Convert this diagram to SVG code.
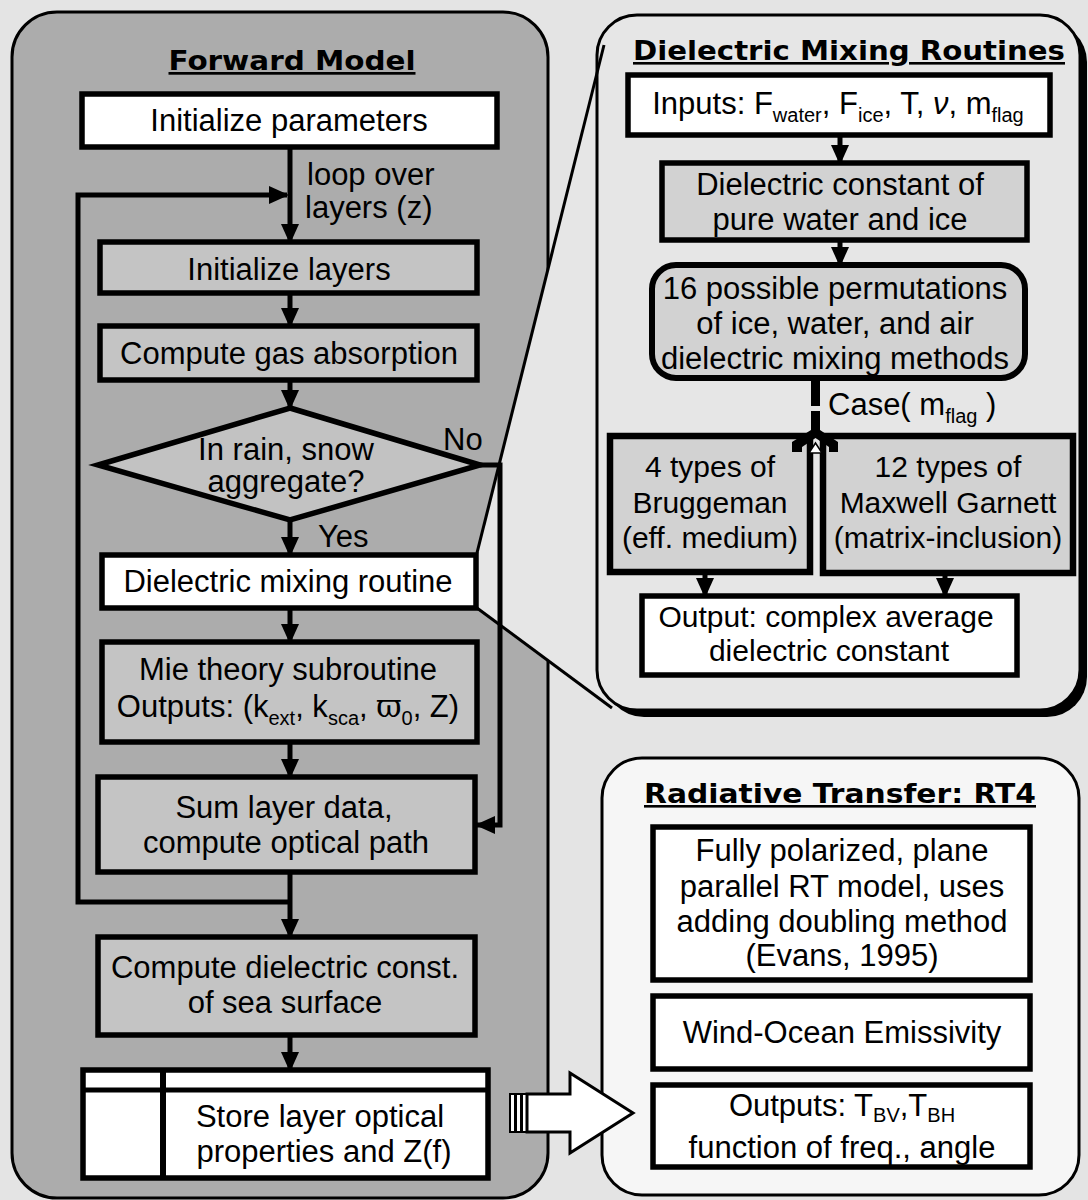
<svg xmlns="http://www.w3.org/2000/svg" width="1088" height="1200" viewBox="0 0 1088 1200">
<defs>
<marker id="ah" viewBox="0 0 20 18" markerWidth="20" markerHeight="18" refX="18" refY="9" markerUnits="userSpaceOnUse" orient="auto"><path d="M0,0 L20,9 L0,18 Z" fill="#000"/></marker>
<style>
.panel{stroke:#000;stroke-width:3}
.box{stroke:#000;stroke-width:5.5}
.w{fill:#fff}
.g{fill:#c4c4c4}
.g2{fill:#d2d2d2}
.t{font-family:"Liberation Sans",Arial,sans-serif;font-size:31px;text-anchor:middle;fill:#000}
.s{text-anchor:start}
.ttl{font-family:"DejaVu Sans","Liberation Sans",sans-serif;font-weight:bold;text-anchor:middle;text-decoration:underline;fill:#000}
.conn{stroke:#000;stroke-width:5;fill:none}
.sub{font-size:20px}
</style>
</defs>
<rect width="1088" height="1200" fill="#e4e4e4"/>

<g id="forward-panel">
<rect x="12" y="12" width="536" height="1186" rx="45" fill="#acacac" class="panel"/>
<text class="ttl" x="292" y="70" font-size="27" textLength="247" lengthAdjust="spacingAndGlyphs">Forward Model</text>
</g>

<g id="callout">
<polygon points="477,553 604,45 612,708 477,608" fill="#e6e6e6"/>
</g>

<g id="dielectric-panel">
<rect x="604" y="22" width="483" height="695" rx="40" fill="#000"/>
<rect x="597" y="15" width="483" height="695" rx="40" fill="#e6e6e6" class="panel"/>
<text class="ttl" x="849" y="60" font-size="26" textLength="432" lengthAdjust="spacingAndGlyphs">Dielectric Mixing Routines</text>
</g>

<g id="callout-lines" class="conn" style="stroke-width:3">
<line x1="477" y1="553" x2="604" y2="45"/>
<line x1="477" y1="608" x2="612" y2="708"/>
</g>

<g id="rt4-panel">
<rect x="602" y="758" width="477" height="437" rx="40" fill="#f6f6f6" class="panel"/>
<text class="ttl" x="840" y="803" font-size="26" textLength="392" lengthAdjust="spacingAndGlyphs">Radiative Transfer: RT4</text>
</g>

<g id="connectors">
<line class="conn" x1="290" y1="148" x2="290" y2="242" marker-end="url(#ah)"/>
<path class="conn" d="M290,902 L78,902 L78,195 L287,195" marker-end="url(#ah)"/>
<line class="conn" x1="290" y1="293" x2="290" y2="326" marker-end="url(#ah)"/>
<line class="conn" x1="290" y1="380" x2="290" y2="408" marker-end="url(#ah)"/>
<line class="conn" x1="290" y1="520" x2="290" y2="555" marker-end="url(#ah)"/>
<path class="conn" d="M480,465 L500,465 L500,825 L477,825" marker-end="url(#ah)"/>
<line class="conn" x1="290" y1="608" x2="290" y2="642" marker-end="url(#ah)"/>
<line class="conn" x1="290" y1="742" x2="290" y2="777" marker-end="url(#ah)"/>
<line class="conn" x1="290" y1="872" x2="290" y2="937" marker-end="url(#ah)"/>
<line class="conn" x1="290" y1="1035" x2="290" y2="1070" marker-end="url(#ah)"/>
<line class="conn" x1="840" y1="135" x2="840" y2="163" marker-end="url(#ah)"/>
<line class="conn" x1="840" y1="240" x2="840" y2="265" marker-end="url(#ah)"/>
<line class="conn" x1="705" y1="572" x2="705" y2="596" marker-end="url(#ah)"/>
<line class="conn" x1="945" y1="573" x2="945" y2="596" marker-end="url(#ah)"/>
<line x1="815.5" y1="378" x2="815.5" y2="406" stroke="#000" stroke-width="9"/>
<line x1="815.5" y1="411" x2="815.5" y2="432" stroke="#000" stroke-width="9"/>
<g id="big-arrow" stroke="#000" fill="#fff">
<rect x="510" y="1094" width="5" height="38" stroke-width="2"/>
<rect x="516" y="1094" width="5" height="38" stroke-width="2"/>
<rect x="522" y="1094" width="5" height="38" stroke-width="2"/>
<polygon points="527,1094 570,1094 570,1073 633,1113 570,1153 570,1132 527,1132" stroke-width="3"/>
</g>
</g>

<text class="t s" x="307" y="185">loop over</text>
<text class="t s" x="305" y="218">layers (z)</text>
<text class="t s" x="443" y="450">No</text>
<text class="t s" x="318" y="547">Yes</text>

<g id="init-params">
<rect class="box w" x="82" y="94" width="415" height="53"/>
<text class="t" x="289" y="131">Initialize parameters</text>
</g>
<g id="init-layers">
<rect class="box g" x="100" y="242" width="377" height="51"/>
<text class="t" x="289" y="280">Initialize layers</text>
</g>
<g id="gas-absorption">
<rect class="box g" x="100" y="326" width="377" height="54"/>
<text class="t" x="289" y="364">Compute gas absorption</text>
</g>
<g id="decision">
<polygon class="box" points="290,408 480,465 290,520 98,465" fill="#c2c2c2"/>
<text class="t" x="286" y="460">In rain, snow</text>
<text class="t" x="286" y="492">aggregate?</text>
</g>
<g id="dielectric-routine">
<rect class="box w" x="102" y="555" width="374" height="53"/>
<text class="t" x="288" y="592">Dielectric mixing routine</text>
</g>
<g id="mie">
<rect class="box g" x="102" y="642" width="375" height="100"/>
<text class="t" x="288" y="680">Mie theory subroutine</text>
<text class="t" x="288" y="717">Outputs: (k<tspan class="sub" dy="8">ext</tspan><tspan dy="-8">, k</tspan><tspan class="sub" dy="8">sca</tspan><tspan dy="-8">, </tspan><tspan font-family="DejaVu Serif,serif">ϖ</tspan><tspan class="sub" dy="8">0</tspan><tspan dy="-8">, Z)</tspan></text>
</g>
<g id="sum-layer">
<rect class="box g" x="98" y="777" width="377" height="95"/>
<text class="t" x="284" y="818">Sum layer data,</text>
<text class="t" x="286" y="853">compute optical path</text>
</g>
<g id="sea-surface">
<rect class="box g" x="98" y="937" width="377" height="98"/>
<text class="t" x="285" y="978">Compute dielectric const.</text>
<text class="t" x="285" y="1013">of sea surface</text>
</g>
<g id="store">
<rect class="box w" x="83" y="1070" width="405" height="108"/>
<line x1="83" y1="1090" x2="488" y2="1090" stroke="#000" stroke-width="5"/>
<line x1="163" y1="1070" x2="163" y2="1178" stroke="#000" stroke-width="6"/>
<text class="t" x="320" y="1127">Store layer optical</text>
<text class="t" x="324" y="1162">properties and Z(f)</text>
</g>

<g id="inputs">
<rect class="box w" x="628" y="75" width="422" height="60"/>
<text class="t" x="838" y="114">Inputs: F<tspan class="sub" dy="8">water</tspan><tspan dy="-8">, F</tspan><tspan class="sub" dy="8">ice</tspan><tspan dy="-8">, T, </tspan><tspan font-style="italic">ν</tspan>, m<tspan class="sub" dy="8">flag</tspan></text>
</g>
<g id="pure-water-ice">
<rect class="box g2" x="662" y="163" width="365" height="77"/>
<text class="t" x="840" y="195">Dielectric constant of</text>
<text class="t" x="840" y="230">pure water and ice</text>
</g>
<g id="permutations">
<rect class="box g2" x="652" y="265" width="373" height="113" rx="24" style="stroke-width:6"/>
<text class="t" x="835" y="299">16 possible permutations</text>
<text class="t" x="835" y="334">of ice, water, and air</text>
<text class="t" x="835" y="369">dielectric mixing methods</text>
</g>
<text class="t s" x="828" y="415">Case( m<tspan class="sub" dy="8">flag</tspan><tspan dy="-8"> )</tspan></text>
<g id="bruggeman">
<rect class="box g2" x="610" y="436" width="200" height="136" style="stroke-width:6.5"/>
<text class="t" x="710" y="477" style="font-size:30px">4 types of</text>
<text class="t" x="710" y="513" style="font-size:30px">Bruggeman</text>
<text class="t" x="710" y="548" style="font-size:30px">(eff. medium)</text>
</g>
<g id="maxwell">
<rect class="box g2" x="823" y="436" width="250" height="137" style="stroke-width:6.5"/>
<text class="t" x="948" y="477" style="font-size:30px">12 types of</text>
<text class="t" x="948" y="513" style="font-size:30px">Maxwell Garnett</text>
<text class="t" x="948" y="548" style="font-size:30px">(matrix-inclusion)</text>
</g>
<g id="case-fork">
<path d="M811,430 L820,430 L838,442 L838,452 L829,452 L829,447 L815.5,438 L802,447 L802,452 L792,452 L792,442 Z" fill="#000"/>
<path d="M815.5,443 L809,453 L822,453 Z" fill="#fff" stroke="#000" stroke-width="1.5"/>
</g>
<g id="output-dielectric">
<rect class="box w" x="642" y="596" width="375" height="79"/>
<text class="t" x="826" y="627" style="font-size:30px">Output: complex average</text>
<text class="t" x="829" y="661" style="font-size:30px">dielectric constant</text>
</g>

<g id="rt-model">
<rect class="box w" x="653" y="827" width="377" height="153"/>
<text class="t" x="842" y="861">Fully polarized, plane</text>
<text class="t" x="842" y="897">parallel RT model, uses</text>
<text class="t" x="842" y="932">adding doubling method</text>
<text class="t" x="842" y="966">(Evans, 1995)</text>
</g>
<g id="wind-ocean">
<rect class="box w" x="653" y="996" width="377" height="73"/>
<text class="t" x="842" y="1043">Wind-Ocean Emissivity</text>
</g>
<g id="rt-outputs">
<rect class="box w" x="653" y="1085" width="377" height="82"/>
<text class="t" x="842" y="1116">Outputs: T<tspan class="sub" dy="6">BV</tspan><tspan dy="-6">,T</tspan><tspan class="sub" dy="6">BH</tspan></text>
<text class="t" x="842" y="1158">function of freq., angle</text>
</g>
</svg>
